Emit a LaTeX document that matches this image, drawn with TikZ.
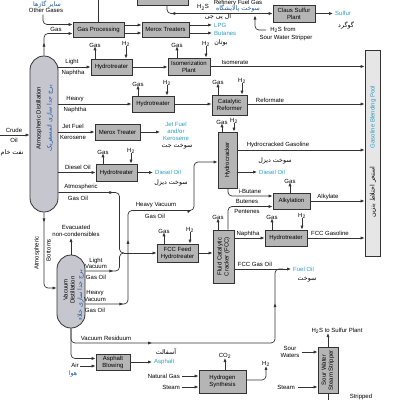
\documentclass[tikz,border=0pt]{standalone}
\usepackage{fontspec}
\setmainfont{Liberation Sans}
\newfontfamily\persfont[Script=Arabic]{DejaVu Sans}
\TeXXeTstate=1
\usetikzlibrary{arrows.meta,decorations.markings}
\definecolor{linec}{HTML}{333333}
\definecolor{boxfill}{HTML}{B5B5B5}
\definecolor{colfill}{HTML}{C5C6CE}
\definecolor{poolfill}{HTML}{E6E6E6}
\definecolor{cyanc}{HTML}{2C9CC4}
\definecolor{dbluec}{HTML}{1F5AA6}
\newcommand\smallf{\fontsize{6}{7}\selectfont}
\newcommand\persf{\persfont\fontsize{6.3}{7}\selectfont}
\newcommand\pers[1]{{\persf\beginR #1\endR}}
\begin{document}
\begin{tikzpicture}[x=1pt,y=-1pt,font=\smallf,
  box/.style={draw=linec, fill=boxfill, line width=0.8pt, inner sep=0pt, align=center},
  colm/.style={draw=linec, fill=colfill, line width=0.8pt, rounded corners=14pt},
  ln/.style={draw=linec, line width=0.7pt, rounded corners=4pt},
  arr/.style={ln, -{Latex[length=4pt,width=3.2pt]}},
  lbl/.style={inner sep=0pt, align=center},
  blu/.style={lbl, text=cyanc},
  midarr/.style={postaction={decorate, decoration={markings, mark=at position #1 with {\arrow{Latex[length=4pt,width=3.2pt]}}}}}]
\useasboundingbox (0,0) rectangle (400,400);

% ---------- boxes ----------
\node[box, minimum width=51, minimum height=30] (amine) at (162.5,-10) {};
\node[box, minimum width=51, minimum height=15] (gp) at (98.5,29.5) {Gas Processing};
\node[box, minimum width=47, minimum height=15] (mx) at (165.5,29.5) {Merox Treaters};
\node[box, minimum width=42, minimum height=17] (claus) at (294,13.5) {Claus Sulfur\\Plant};
\node[colm, minimum width=28, minimum height=156] (atm) at (44,134) {};
\node[box, minimum width=41, minimum height=16] (ht1) at (111.5,67) {Hydrotreater};
\node[box, minimum width=42, minimum height=17] (iso) at (189,66.5) {Isomerization\\Plant};
\node[box, fill=poolfill, minimum width=15, minimum height=206] (pool) at (372.5,153) {};
\node[box, minimum width=42, minimum height=16] (ht2) at (153,104) {Hydrotreater};
\node[box, minimum width=35, minimum height=20] (cr) at (229.5,105) {Catalytic\\Reformer};
\node[box, minimum width=45, minimum height=16] (mt) at (117.5,132) {Merox Treater};
\node[box, minimum width=41, minimum height=17] (ht3) at (116.5,172.5) {Hydrotreater};
\node[box, minimum width=19, minimum height=56] (hc) at (227.5,160) {};
\node[box, minimum width=37, minimum height=16] (alk) at (291.5,201) {Alkylation};
\node[box, minimum width=41, minimum height=18] (ffh) at (177.5,253) {FCC Feed\\Hydrotreater};
\node[box, minimum width=21, minimum height=53] (fcc) at (223.5,256.5) {};
\node[box, minimum width=42, minimum height=16] (htf) at (286,238) {Hydrotreater};
\node[colm, minimum width=28, minimum height=73] (vac) at (71,291.5) {};
\node[box, minimum width=34, minimum height=16] (ab) at (113,362) {Asphalt\\Blowing};
\node[box, minimum width=47, minimum height=23] (hs) at (222.5,381.5) {Hydrogen\\Synthesis};
\node[box, minimum width=20, minimum height=46] (sws) at (328,370) {};

% rotated texts
\node[lbl, rotate=90] at (hc) {Hydrocracker};
\node[lbl, rotate=90] at (fcc) {Fluid Catalytic\\Cracker (FCC)};
\node[lbl, rotate=90] at (sws) {Sour Water\\Steam Stripper};
\node[blu, rotate=90] at (373,117) {Gasoline Blending Pool};
\node[lbl, rotate=90] at (373,192) {\pers{استخر اختلاط بنزین}};
\node[lbl, rotate=90] at (39,118) {Atmospheric Distillation};
\node[lbl, rotate=90, text=dbluec] at (50,118) {\pers{برج جدا سازی اتمسفریک}};
\node[lbl, rotate=90] at (69,290) {Vacuum\\Distillation};
\node[lbl, rotate=90, text=dbluec] at (80.5,295) {\pers{برج جدا سازی خلاء}};

% ---------- top area ----------
\node[lbl, text=dbluec, anchor=north] at (47,0.3) {\pers{سایر گازها}};
\node[lbl] at (46,10) {Other Gases};
\coordinate (og0) at (43,14.5);
\draw[arr] (og0) |- (gp.west |- 0,24.5);
\node[lbl] at (56,29) {Gas};
\draw[arr, midarr=13pt] (atm.north) |- (gp.west |- 0,33.5);
\coordinate (gpup) at (98.5,-6);
\draw[ln] (gp.north) -- (gpup);
\draw[arr] (gp.east |- 0,25) -- (mx.west |- 0,25);
\draw[arr] (gp.east |- 0,33) -- (mx.west |- 0,33);
\coordinate (lpg) at (212,25);
\coordinate (but) at (212,33);
\draw[arr] (mx.east |- lpg) -- (lpg);
\draw[arr] (mx.east |- but) -- (but);
\node[blu, anchor=west] at (214,25) {LPG};
\node[blu, anchor=west] at (214,33) {Butanes};
\node[lbl] at (218,17) {\pers{ال پی جی}};
\node[lbl] at (221,43) {\pers{بوتان}};

\draw[arr, midarr=17pt] (amine.south -| 167,0) |- (claus.west);
\node[lbl] at (203,7.5) {H\textsubscript{2}S};
\node[lbl, text=dbluec] at (238,8.3) {\pers{سوخت پالایشگاه}};
\node[lbl, anchor=north] at (238,0.3) {Refinery Fuel Gas};
\coordinate (sul) at (333,13.5);
\draw[arr] (claus.east) -- (sul);
\node[blu, anchor=west] at (335,13.5) {Sulfur};
\node[lbl] at (346,25) {\pers{گوگرد}};
\coordinate (hf) at (266,30);
\draw[arr] (hf) -| (255,15.5);
\node[lbl] at (283,30) {H\textsubscript{2}S from};
\node[lbl] at (286,38) {Sour Water Stripper};

% crude
\coordinate (cr0) at (0,135);
\draw[arr] (cr0) -- (atm.west |- cr0);
\node[lbl] at (14,130.5) {Crude};
\node[lbl] at (14,140) {Oil};
\node[lbl, anchor=west] at (0.5,153) {\pers{نفت خام}};

% light naphtha
\draw[arr] (atm.east |- ht1.west) -- (ht1.west);
\node[lbl] at (72,61.5) {Light};
\node[lbl] at (73,72.5) {Naphtha};
\draw[arr] (ht1.east) -- (iso.west |- ht1.east);
\draw[arr] (iso.east) -- (pool.west |- iso.east);
\node[lbl] at (235,62) {Isomerate};

% heavy naphtha
\draw[arr] (atm.east |- ht2.west) -- (ht2.west);
\node[lbl] at (75,99) {Heavy};
\node[lbl] at (75,110) {Naphtha};
\draw[arr] (ht2.east) -- (cr.west |- ht2.east);
\draw[arr] (cr.east |- 0,104) -- (pool.west |- 0,104);
\node[lbl] at (270,100) {Reformate};

% jet
\draw[arr] (atm.east |- mt.west) -- (mt.west);
\node[lbl] at (73,126.5) {Jet Fuel};
\node[lbl] at (73,137.5) {Kerosene};
\coordinate (jet) at (160,132);
\draw[arr] (mt.east) -- (jet);
\node[blu] at (176,131) {Jet Fuel\\and/or\\Kerosene};
\node[lbl] at (177,147) {\pers{سوخت جت}};

% diesel
\draw[arr] (atm.east |- ht3.west) -- (ht3.west);
\node[lbl] at (78,167.5) {Diesel Oil};
\coordinate (dz) at (153,172.5);
\draw[arr] (ht3.east) -- (dz);
\node[blu, anchor=west] at (155,172.5) {Diesel Oil};
\node[lbl] at (171,183) {\pers{سوخت دیزل}};

% gas / H2 labels with arrows
\node[lbl] (g1) at (95,45) {Gas};   \draw[arr] (ht1.north -| g1) -- ([yshift=1pt]g1.south);
\node[lbl] (h1) at (126,44) {H\textsubscript{2}}; \draw[arr] ([yshift=1pt]h1.south) -- (ht1.north -| h1);
\node[lbl] (g2) at (177,45) {Gas};  \draw[arr] (iso.north -| g2) -- ([yshift=1pt]g2.south);
\node[lbl] (h2) at (206,44) {H\textsubscript{2}}; \draw[arr] ([yshift=1pt]h2.south) -- (iso.north -| h2);
\node[lbl] (g3) at (138,84) {Gas};  \draw[arr] (ht2.north -| g3) -- ([yshift=1pt]g3.south);
\node[lbl] (h3) at (167,83) {H\textsubscript{2}}; \draw[arr] ([yshift=1pt]h3.south) -- (ht2.north -| h3);
\node[lbl] (g4) at (218,82) {Gas};  \draw[arr] (cr.north -| g4) -- ([yshift=1pt]g4.south);
\node[lbl] (h4) at (242,81) {H\textsubscript{2}}; \draw[arr] ([yshift=1pt]h4.south) -- (cr.north -| h4);
\node[lbl] (g5) at (103,152) {Gas}; \draw[arr] (ht3.north -| g5) -- ([yshift=1pt]g5.south);
\node[lbl] (h5) at (131,151) {H\textsubscript{2}}; \draw[arr] ([yshift=1pt]h5.south) -- (ht3.north -| h5);
\node[lbl] (g6) at (222,122) {Gas}; \draw[arr] (hc.north -| g6) -- ([yshift=1pt]g6.south);
\node[lbl] (h6) at (234,121) {H\textsubscript{2}}; \draw[arr] ([yshift=1pt]h6.south) -- (hc.north -| h6);
\node[lbl] (g7) at (290,181) {Gas}; \draw[arr] (alk.north -| g7) -- ([yshift=1pt]g7.south);
\node[lbl] (g8) at (164,231) {Gas}; \draw[arr] (ffh.north -| g8) -- ([yshift=1pt]g8.south);
\node[lbl] (h8) at (190,230) {H\textsubscript{2}}; \draw[arr] ([yshift=1pt]h8.south) -- (ffh.north -| h8);
\node[lbl] (g9) at (218,217) {Gas}; \draw[arr] (fcc.north -| g9) -- ([yshift=1pt]g9.south);
\node[lbl] (g10) at (272,217) {Gas}; \draw[arr] (htf.north -| g10) -- ([yshift=1pt]g10.south);
\node[lbl] (h10) at (302,216) {H\textsubscript{2}}; \draw[arr] ([yshift=1pt]h10.south) -- (htf.north -| h10);

% atmospheric gas oil + light vacuum gas oil -> FCC feed
\coordinate (mg) at (124,253);
\node[lbl] at (81,187) {Atmospheric};
\node[lbl] at (78,198.5) {Gas Oil};
\draw[ln, midarr=55pt] (atm.east |- 0,192.5) -- (119.5,192.5) -- (119.5,253) -- (mg);
\draw[ln, midarr=28pt] (vac.east |- 0,271) -- (119.5,271) -- (119.5,253) -- (mg);
\draw[arr] (mg) -- (ffh.west);
\node[lbl] at (96,260.5) {Light};
\node[lbl] at (96,266.5) {Vacuum};
\node[lbl] at (96,277) {Gas Oil};

% heavy vacuum gas oil -> hydrocracker
\draw[arr, midarr=38pt, midarr=105pt, midarr=196pt] (vac.east |- 0,304) -- (128,304) -- (128,210.5) -- (194,210.5) -- (194,162) -- (hc.west |- 0,162);
\node[lbl] at (95,293) {Heavy};
\node[lbl] at (95,299.5) {Vacuum};
\node[lbl] at (95,310.5) {Gas Oil};
\node[lbl] at (156,205) {Heavy Vacuum};
\node[lbl] at (155,216) {Gas Oil};

% hydrocracker outputs
\draw[arr] (hc.east |- 0,150) -- (pool.west |- 0,150);
\node[lbl] at (278,145) {Hydrocracked Gasoline};
\coordinate (dz2) at (257,172);
\draw[arr] (hc.east |- dz2) -- (dz2);
\node[blu, anchor=west] at (259,172) {Diesel Oil};
\node[lbl] at (275,161) {\pers{سوخت دیزل}};
\draw[arr] (hc.south -| 228,0) |- (alk.west |- 0,196);
\node[lbl] at (250,191.5) {i-Butane};

% FCC
\draw[arr] (ffh.east) -- (fcc.west |- ffh.east);
\draw[arr] (fcc.north -| 228,0) |- (alk.west |- 0,206.5);
\node[lbl] at (247,201.5) {Butenes};
\node[lbl] at (247,211) {Pentenes};
\draw[arr] (alk.east) -- (pool.west |- alk.east);
\node[lbl] at (328,196.5) {Alkylate};
\draw[arr] (fcc.east |- htf.west) -- (htf.west);
\node[lbl] at (248,233.5) {Naphtha};
\draw[arr] (htf.east) -- (pool.west |- htf.east);
\node[lbl] at (330,233.5) {FCC Gasoline};
\coordinate (fo) at (291,269);
\draw[arr] (fcc.east |- fo) -- (fo);
\node[lbl] at (255,264.5) {FCC Gas Oil};
\node[blu, anchor=west] at (293,269) {Fuel Oil};
\node[lbl] at (307,280) {\pers{سوخت}};

% vacuum column connections
\draw[arr, midarr=10pt] (atm.south) |- (vac.west |- 0,288);
\node[lbl, rotate=90] at (37,253) {Atmospheric};
\node[lbl, rotate=90] at (48.5,250) {Bottoms};
\coordinate (ev) at (71,238);
\draw[arr] (vac.north) -- (ev);
\node[lbl] at (76,227) {Evacuated};
\node[lbl] at (76,234) {non-condensibles};
\draw[ln, midarr=94pt, midarr=255pt] (vac.south) -- (71,343) -- (275,343) -- (275,269) -- (283,269);
\node[lbl] at (106,338) {Vacuum Residuum};
\draw[arr] (vac.south) |- (ab.west |- 0,358.5);
\coordinate (air) at (80,366);
\draw[arr] (air) -- (ab.west |- air);
\node[lbl, anchor=east] at (79,365.5) {Air};
\node[lbl, text=dbluec] at (73,374) {\pers{هوا}};
\coordinate (asp) at (152,362);
\draw[arr] (ab.east) -- (asp);
\node[blu, anchor=west] at (154,362) {Asphalt};
\node[lbl] at (166,351.5) {\pers{آسفالت}};

% hydrogen synthesis
\coordinate (ng) at (182,376);
\draw[arr] (ng) -- (hs.west |- ng);
\node[lbl, anchor=east] at (180,376) {Natural Gas};
\coordinate (st1) at (182,387);
\draw[arr] (st1) -- (hs.west |- st1);
\node[lbl, anchor=east] at (180,387) {Steam};
\node[lbl] (co2) at (225,356) {CO\textsubscript{2}};
\draw[arr] (hs.north -| co2) -- ([yshift=1pt]co2.south);
\node[lbl] (h2o) at (266,364) {H\textsubscript{2}};
\draw[arr] (hs.east |- 0,380) -| ([yshift=1pt]h2o.south);

% sour water stripper
\node[lbl] (h2ss) at (337,331) {H\textsubscript{2}S to Sulfur Plant};
\draw[arr] (sws.north) -- ([yshift=1pt]h2ss.south -| sws.north);
\coordinate (sw) at (302,352);
\draw[arr] (sw) -- (sws.west |- sw);
\node[lbl] at (290,352) {Sour\\Waters};
\coordinate (st2) at (298,387);
\draw[arr] (st2) -- (sws.west |- st2);
\node[lbl, anchor=east] at (295,387) {Steam};
\coordinate (swb) at (328,406);
\draw[ln] (sws.south) -- (swb);
\node[lbl] at (361,397) {Stripped};
\end{tikzpicture}
\end{document}
